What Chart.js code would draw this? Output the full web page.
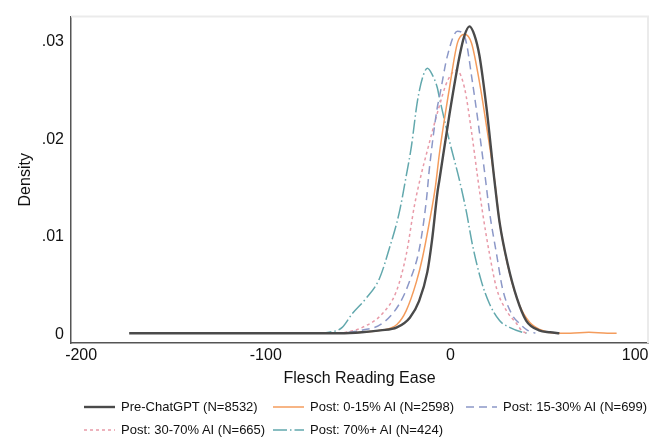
<!DOCTYPE html>
<html>
<head>
<meta charset="utf-8">
<script src="https://cdn.jsdelivr.net/npm/chart.js@4"></script>
<style>
  html, body { margin: 0; padding: 0; background: #fff; }
  #wrap { position: relative; width: 660px; height: 440px; }
  #legend { position: absolute; left: 0; top: 0; width: 660px; height: 440px; pointer-events: none;
            font-family: 'Liberation Sans', Arial, sans-serif; font-size: 13px; color: #111; }
  .item { position: absolute; height: 16px; line-height: 16px; white-space: nowrap; }
  .item svg { position: absolute; left: 0; top: 3px; }
  .item span { position: absolute; left: 37px; top: 0; }
</style>
</head>
<body>
<div id="wrap">
  <canvas id="c" width="660" height="440"></canvas>
  <div id="legend"></div>
</div>
<script>
// ---- Data ----
const seriesLabels = [
  'Pre-ChatGPT (N=8532)',
  'Post: 0-15% AI (N=2598)',
  'Post: 15-30% AI (N=699)',
  'Post: 30-70% AI (N=665)',
  'Post: 70%+ AI (N=424)'
];
const xTickValues = [-200, -100, 0, 100];
const yTickValues = [0, 0.01, 0.02, 0.03];

const preX = [-174, -120, -80, -60, -48, -38, -29, -22, -17, -12.5, -10, -7, -6, -0.5, 5, 7.5, 10.3, 13, 15.7, 19.5, 24, 26.6, 31, 36, 41, 48, 54, 59];
const preY = [0.0001, 0.0001, 0.0001, 0.0001, 0.0002, 0.0004, 0.0007, 0.0017, 0.0034, 0.0064, 0.0096, 0.0146, 0.0158, 0.0226, 0.0286, 0.0306, 0.0316, 0.0307, 0.0286, 0.0233, 0.0155, 0.0115, 0.0072, 0.0037, 0.0014, 0.0004, 0.0002, 0.0001];

const lowX = [-80, -60, -48, -38, -29, -24, -18.4, -15.2, -11.4, -8.1, -6, -0.5, 3.8, 7.6, 11.4, 15.7, 20, 24, 26.6, 32, 37.4, 43, 51, 59, 65, 75, 85, 90];
const lowY = [0.0001, 0.0001, 0.0002, 0.0004, 0.0010, 0.0024, 0.0054, 0.0078, 0.0115, 0.0152, 0.0185, 0.0253, 0.0299, 0.0308, 0.0299, 0.0259, 0.0208, 0.0157, 0.0115, 0.0063, 0.0030, 0.0012, 0.0003, 0.0001, 0.0001, 0.0002, 0.0001, 0.0001];

const midX = [-62, -55, -48, -37, -27.7, -22.2, -16.8, -13, -11.4, -7.1, -6, -1.6, 3.8, 7.6, 11.9, 18.4, 21.2, 25, 28.2, 33.1, 37.4, 41.8, 46];
const midY = [0.0001, 0.0002, 0.0004, 0.0011, 0.0031, 0.0054, 0.0088, 0.0138, 0.0170, 0.0233, 0.0243, 0.0286, 0.0311, 0.0306, 0.0259, 0.0168, 0.0125, 0.0082, 0.0047, 0.0021, 0.0011, 0.0004, 0.0001];

const highX = [-64, -56.4, -47.7, -36.9, -29.3, -23.9, -19.5, -15.7, -13, -6.5, -1.6, 3.3, 7.6, 11.4, 14.6, 17.4, 21.2, 25, 30.4, 35.8, 38.5, 41];
const highY = [0.0001, 0.0002, 0.0007, 0.0021, 0.0044, 0.0082, 0.0132, 0.0165, 0.0185, 0.0231, 0.0260, 0.0271, 0.0253, 0.0208, 0.0163, 0.0125, 0.0082, 0.0047, 0.0024, 0.0011, 0.0004, 0.0001];

const topX = [-72, -65.7, -58.6, -53.2, -45.6, -38.5, -33.1, -27.7, -23.9, -21.2, -17.9, -15, -12.5, -10, -7.1, -6, -0.5, 4.9, 8.7, 11.9, 16.8, 21.2, 26.6, 32, 39, 42];
const topY = [0.0001, 0.0002, 0.0007, 0.0021, 0.0037, 0.0057, 0.0088, 0.0125, 0.0163, 0.0192, 0.0239, 0.0264, 0.0273, 0.0267, 0.0253, 0.0243, 0.0198, 0.0158, 0.0125, 0.0092, 0.0054, 0.0031, 0.0014, 0.0007, 0.0002, 0.0001];

// ---- Styles ----
const styles = [
  { color: '#4a4a4a', width: 2.4, dash: [] },
  { color: '#f49c5c', width: 1.5, dash: [] },
  { color: '#8c98c8', width: 1.5, dash: [8, 5] },
  { color: '#e89aa8', width: 1.5, dash: [3, 3] },
  { color: '#62a8ad', width: 1.5, dash: [14, 3, 1.5, 3] }
];
const xs = [preX, lowX, midX, highX, topX];
const ys = [preY, lowY, midY, highY, topY];

function pts(xa, ya) { return xa.map((x, i) => ({ x: x, y: ya[i] })); }

const datasets = seriesLabels.map((lab, i) => ({
  label: lab,
  data: pts(xs[i], ys[i]),
  borderColor: styles[i].color,
  borderWidth: styles[i].width,
  borderDash: styles[i].dash,
  pointRadius: 0,
  fill: false,
  cubicInterpolationMode: 'monotone',
  order: i === 0 ? 0 : i
}));

const FONT = "'Liberation Sans', Arial, sans-serif";
Chart.defaults.font.family = FONT;
Chart.defaults.color = '#111';

const frame = {
  id: 'frame',
  beforeDatasetsDraw(chart) {
    const { ctx, chartArea: a } = chart;
    ctx.save();
    ctx.strokeStyle = '#ebebeb';
    ctx.lineWidth = 2;
    ctx.beginPath();
    ctx.moveTo(a.left, a.top);
    ctx.lineTo(a.right, a.top);
    ctx.lineTo(a.right, a.bottom);
    ctx.stroke();
    ctx.restore();
  }
};

new Chart(document.getElementById('c'), {
  type: 'line',
  data: { datasets: datasets },
  plugins: [frame],
  options: {
    responsive: false,
    animation: false,
    layout: { padding: { left: 0, top: 10, right: 12, bottom: 0 } },
    plugins: { legend: { display: false }, tooltip: { enabled: false } },
    scales: {
      x: {
        type: 'linear',
        min: -205.5,
        max: 107,
        grid: { display: false, drawTicks: false },
        border: { display: true, color: '#555', width: 1.5 },
        afterBuildTicks: s => { s.ticks = xTickValues.map(v => ({ value: v })); },
        afterFit: s => { s.height = 97; },
        ticks: { font: { size: 16 }, padding: 3, maxRotation: 0, callback: v => String(v) },
        title: { display: true, text: 'Flesch Reading Ease', font: { size: 16 }, padding: { top: 0, bottom: 52 } }
      },
      y: {
        type: 'linear',
        min: -0.0009,
        max: 0.0326,
        grid: { display: false, drawTicks: false },
        border: { display: true, color: '#555', width: 1.5 },
        afterBuildTicks: s => { s.ticks = yTickValues.map(v => ({ value: v })); },
        afterFit: s => { s.width = 71; },
        ticks: { font: { size: 16 }, padding: 7,
          callback: v => v === 0 ? '0' : String(Math.round(v * 100) / 100).replace(/^0/, '') },
        title: { display: true, text: 'Density', font: { size: 16 }, padding: { top: 16, bottom: 0 } }
      }
    }
  }
});

// ---- Legend (HTML, two rows in three columns) ----
const legendPos = [
  { left: 84, top: 399 }, { left: 273, top: 399 }, { left: 466, top: 399 },
  { left: 84, top: 422 }, { left: 273, top: 422 }
];
const legend = document.getElementById('legend');
seriesLabels.forEach((lab, i) => {
  const d = document.createElement('div');
  d.className = 'item';
  d.style.left = legendPos[i].left + 'px';
  d.style.top = legendPos[i].top + 'px';
  const st = styles[i];
  const dash = st.dash.length ? ` stroke-dasharray="${st.dash.join(' ')}"` : '';
  d.innerHTML = `<svg width="31" height="10"><line x1="0" y1="5" x2="31" y2="5" stroke="${st.color}" stroke-width="${st.width}"${dash}/></svg><span>${lab}</span>`;
  legend.appendChild(d);
});
</script>
</body>
</html>
